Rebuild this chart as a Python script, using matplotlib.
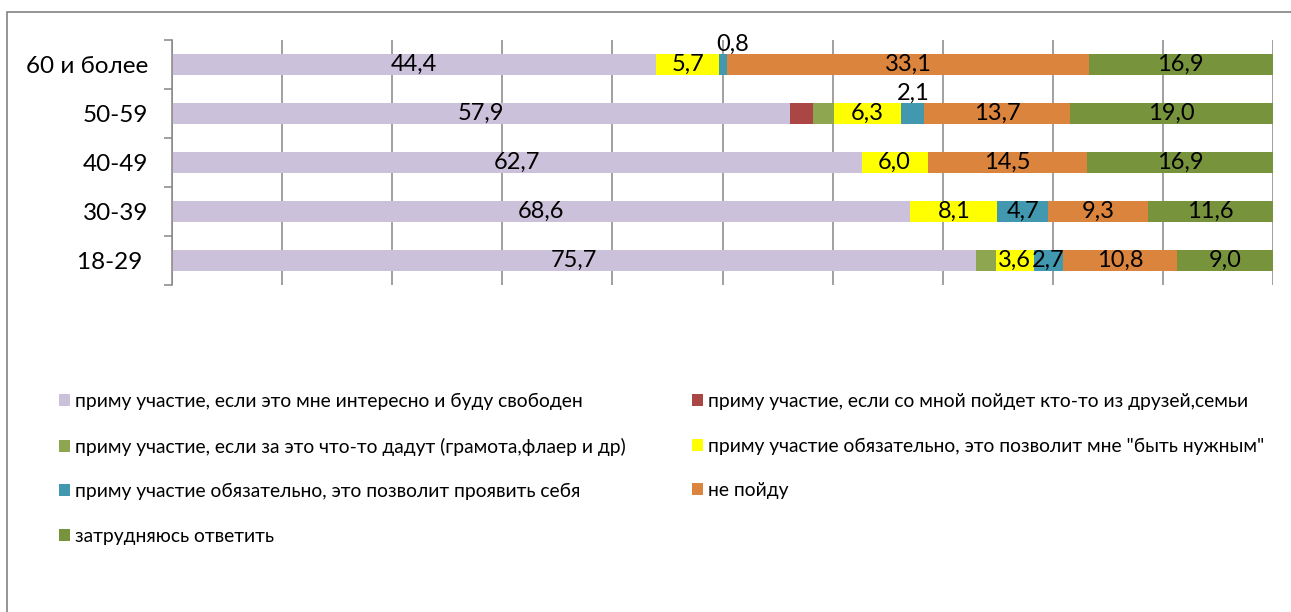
import matplotlib.pyplot as plt
from matplotlib.patches import Rectangle, Patch

plt.rcParams['font.family'] = ['Lato', 'Open Sans', 'DejaVu Sans']

# данные (сверху вниз на графике идут от "60 и более" к "18-29")
groups = ["18-29 ", "30-39", "40-49", "50-59", "60 и более"]

series_names = [
    "приму участие, если это мне интересно и буду свободен",
    "приму участие, если со мной пойдет кто-то из друзей,семьи",
    "приму участие, если за это что-то дадут (грамота,флаер и др)",
    "приму участие обязательно, это позволит мне \"быть нужным\"",
    "приму участие обязательно, это позволит проявить себя",
    "не пойду",
    "затрудняюсь ответить",
]
colors = ["#CCC1DA", "#AA4643", "#8EA64F", "#FFFF00", "#4198AF", "#DB843D", "#77933C"]

interesno = [75.7, 68.6, 62.7, 57.9, 44.4]
druzya = [0, 0, 0, 2.1, 0]
gramota = [1.8, 0, 0, 2.0, 0]
nuzhnym = [3.6, 8.1, 6.0, 6.3, 5.7]
proyavit = [2.7, 4.7, 0, 2.1, 0.8]
ne_poidu = [10.8, 9.3, 14.5, 13.7, 33.1]
zatrud = [9.0, 11.6, 16.9, 19.0, 16.9]
values = [interesno, druzya, gramota, nuzhnym, proyavit, ne_poidu, zatrud]

# подписи, которых нет на исходной диаграмме (серия, группа)
hidden = {(1, 3), (2, 3), (2, 0)}
# подписи, вынесенные над столбцом (сдвиг вправо в пикселях)
above = {(4, 4): 10, (4, 3): 1}

W, H = 1291, 612
fig = plt.figure(figsize=(W / 100, H / 100), dpi=100)
ax = fig.add_axes([172 / W, 1 - 285 / H, 1101 / W, 245 / H])

totals = [sum(v[i] for v in values) for i in range(len(groups))]
ypos = list(range(len(groups)))
left = [0.0] * len(groups)
bar_h = 0.41
lbl_fs = 17

for s, (name, vals, col) in enumerate(zip(series_names, values, colors)):
    widths = [v / t * 100 for v, t in zip(vals, totals)]
    ax.barh(ypos, widths, left=left, height=bar_h, color=col, zorder=2, label=name)
    for i, v in enumerate(vals):
        if v == 0 or (s, i) in hidden:
            continue
        txt = f"{v:.1f}".replace('.', ',')
        cx = left[i] + widths[i] / 2
        if (s, i) in above:
            ax.annotate(txt, (cx, ypos[i] + bar_h / 2), xytext=(above[(s, i)] * 0.72, 0),
                        textcoords='offset points', ha='center', va='bottom',
                        fontsize=lbl_fs, zorder=3)
        else:
            ax.text(cx, ypos[i], txt, ha='center', va='center', fontsize=lbl_fs, zorder=3)
    left = [l + w for l, w in zip(left, widths)]

ax.set_xlim(0, 100)
ax.set_ylim(-0.5, len(groups) - 0.5)
ax.set_xticks(range(0, 101, 10))
ax.tick_params(axis='x', length=0, labelbottom=False)
ax.grid(axis='x', color='#868686', lw=1.1, zorder=0)

ax.set_yticks(ypos)
ax.set_yticklabels(groups, fontsize=17.5)
ax.set_yticks([y - 0.5 for y in range(len(groups) + 1)], minor=True)
ax.tick_params(axis='y', which='major', length=0, pad=17)
ax.tick_params(axis='y', which='minor', length=6, width=1.1, color='#868686', direction='out')

for sp in ['top', 'right', 'bottom']:
    ax.spines[sp].set_visible(False)
ax.spines['left'].set_color('#868686')
ax.spines['left'].set_linewidth(1.1)

# легенда в два столбца, порядок по строкам
handles = [Patch(facecolor=c, edgecolor='none') for c in colors]
leg_kw = dict(frameon=False, fontsize=13.9, handlelength=0.55, handleheight=0.55,
              handletextpad=0.3, labelspacing=1.42, borderpad=0, borderaxespad=0)
fig.legend([handles[i] for i in (0, 2, 4, 6)], [series_names[i] for i in (0, 2, 4, 6)],
           loc='upper left', bbox_to_anchor=(59 / W, 1 - 393 / H), **leg_kw)
fig.legend([handles[i] for i in (1, 3, 5)], [series_names[i] for i in (1, 3, 5)],
           loc='upper left', bbox_to_anchor=(692 / W, 1 - 393 / H), **leg_kw)

fig.add_artist(Rectangle((7 / W, -0.1), 2, 1.1 - 12 / H, transform=fig.transFigure,
                         fill=False, ec='#8C8C8C', lw=1.3))

fig.savefig('out.png', dpi=100)
